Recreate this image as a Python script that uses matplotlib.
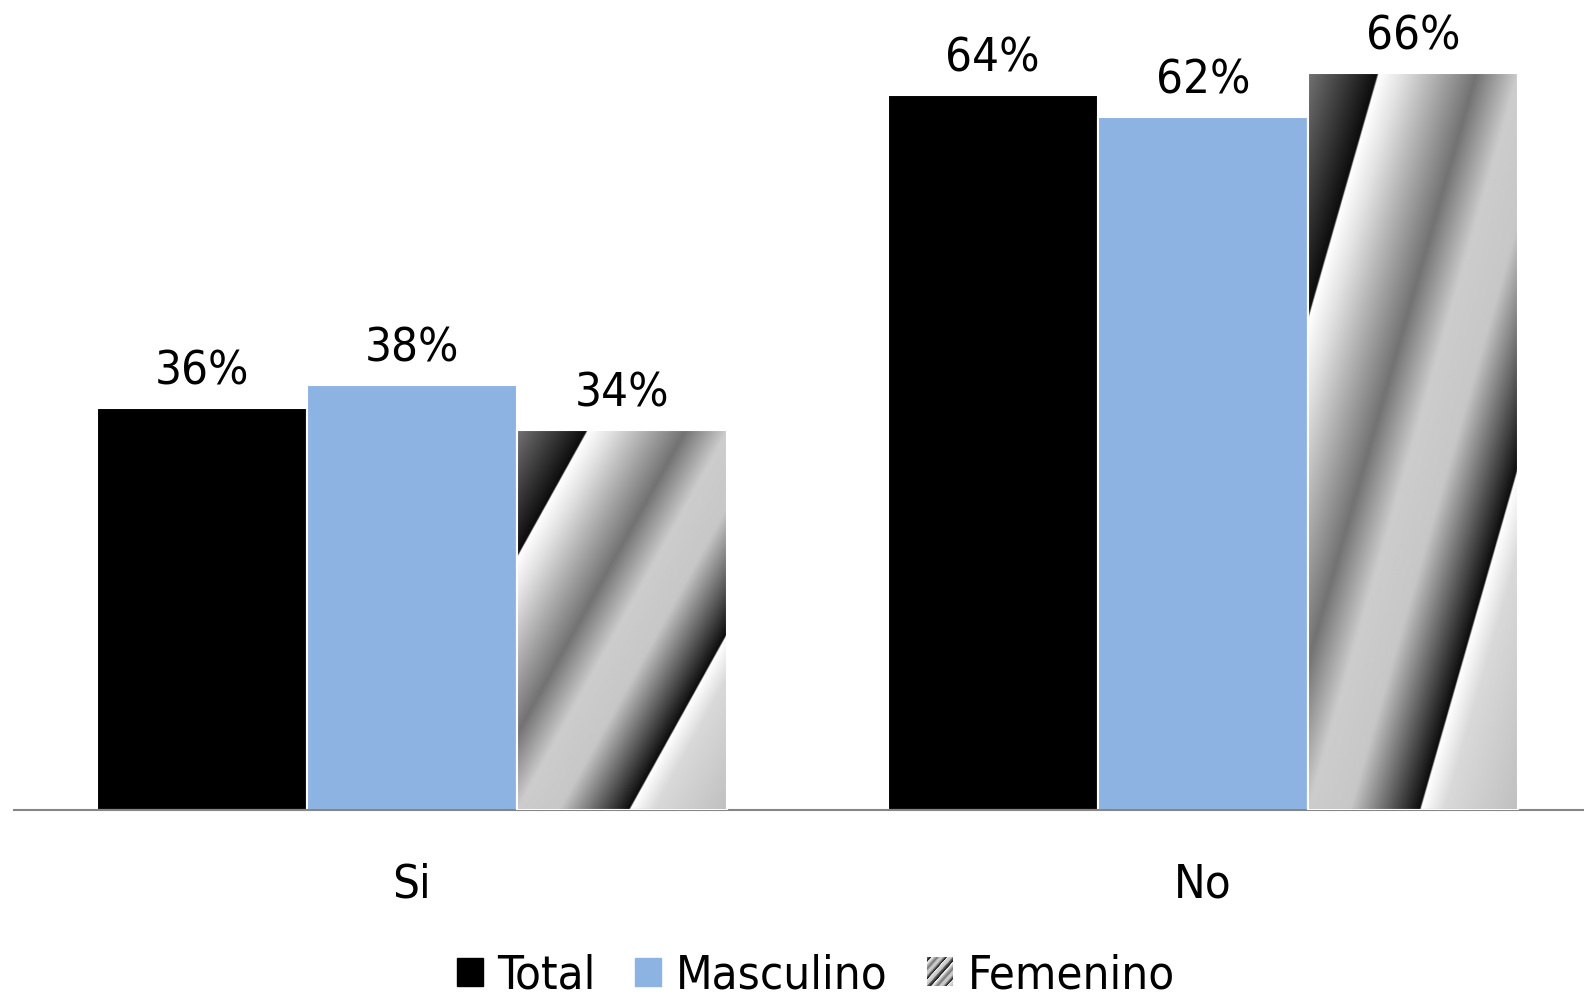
import numpy as np
import matplotlib
matplotlib.use("Agg")
import matplotlib.pyplot as plt
from matplotlib.patches import Rectangle
from matplotlib.image import BboxImage
from matplotlib.transforms import Bbox, TransformedBbox
from matplotlib.legend_handler import HandlerBase

# Data
categories = ["Si", "No"]
series = ["Total", "Masculino", "Femenino"]
total = [36, 64]
masculino = [38, 62]
femenino = [34, 66]

plt.rcParams['font.family'] = ['DejaVu Sans']
plt.rcParams['font.stretch'] = 'condensed'

BLUE = "#8DB3E2"
FS = 34


# Diagonal grey gradient used as the Femenino fill (row 0 = top of the bar)
def stripe_texture(n=400, scale=1.0):
    u = np.linspace(0, 1, n)
    U, V = np.meshgrid(u, u)
    s = ((U + V) * scale) % 2.0
    stops_s = [0.0, 0.33, 0.336, 0.45, 0.8, 1.0, 1.2, 1.35, 1.53, 1.536, 1.65, 2.0]
    stops_g = [0.45, 0.05, 1.0, 0.88, 0.45, 0.8, 0.78, 0.45, 0.05, 1.0, 0.85, 0.75]
    return np.interp(s, stops_s, stops_g)


class GradientHandler(HandlerBase):
    def create_artists(self, legend, orig_handle, xdescent, ydescent,
                       width, height, fontsize, trans):
        bb = Bbox.from_bounds(-xdescent, -ydescent, width, height)
        img = BboxImage(TransformedBbox(bb, trans), cmap="gray",
                        norm=plt.Normalize(0, 1), interpolation="bilinear")
        img.set_data(stripe_texture(60, scale=2.0))
        return [img]


fig = plt.figure(figsize=(15.84, 9.97), dpi=100)
ax = fig.add_axes([0.0088, 0.1876, 0.9912, 0.8124])

x = np.arange(len(categories))
w = 0.2655
offsets = [-w, 0, w]

bars_t = ax.bar(x + offsets[0], total, w, color="black", edgecolor="white", linewidth=1.5, zorder=2)
bars_m = ax.bar(x + offsets[1], masculino, w, color=BLUE, edgecolor="white", linewidth=1.5, zorder=2)
bars_f = ax.bar(x + offsets[2], femenino, w, color="#cccccc", edgecolor="white", linewidth=1.5, zorder=2)

tex = stripe_texture()
for b in bars_f:
    x0, y0 = b.get_x(), b.get_y()
    im = ax.imshow(tex, cmap="gray", vmin=0, vmax=1, aspect="auto", origin="upper",
                   extent=(x0, x0 + b.get_width(), y0, y0 + b.get_height()),
                   interpolation="bilinear", zorder=2.5)
    im.set_clip_path(b)
ax.bar(x + offsets[2], femenino, w, fill=False, edgecolor="white", linewidth=1.5, zorder=3)

# value labels
for bars, vals in [(bars_t, total), (bars_m, masculino), (bars_f, femenino)]:
    for b, v in zip(bars, vals):
        ax.annotate(f"{v}%", (b.get_x() + b.get_width() / 2, v),
                    xytext=(0, 17), textcoords="offset points",
                    ha="center", va="baseline", fontsize=FS)

ax.set_xlim(-0.503, 1.482)
ax.set_ylim(0, 72.5)
ax.set_xticks(x)
ax.set_xticklabels(categories, fontsize=FS)
ax.tick_params(axis="x", length=0, pad=38)
ax.set_yticks([])
for side in ["top", "right", "left"]:
    ax.spines[side].set_visible(False)
ax.spines["bottom"].set_color("#868686")
ax.spines["bottom"].set_linewidth(1.5)

handles = [Rectangle((0, 0), 1, 1, color="black"),
           Rectangle((0, 0), 1, 1, color=BLUE),
           Rectangle((0, 0), 1, 1, color="gray")]
fig.legend(handles, series, loc="center", bbox_to_anchor=(0.515, 0.021),
           ncol=3, frameon=False, fontsize=FS, handlelength=0.55, handleheight=0.55,
           handletextpad=0.3, columnspacing=0.85,
           handler_map={handles[2]: GradientHandler()})

fig.savefig("out.png", dpi=100)
